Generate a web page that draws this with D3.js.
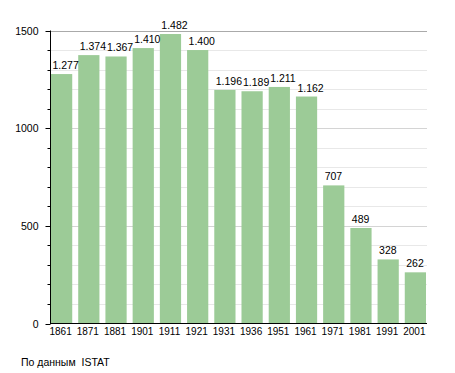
<!DOCTYPE html>
<html><head><meta charset="utf-8">
<script src="https://cdn.jsdelivr.net/npm/d3@7"></script>
<style>body{margin:0;background:#fff}svg{display:block}</style>
</head><body>
<script>
const years = ["1861","1871","1881","1901","1911","1921","1931","1936","1951","1961","1971","1981","1991","2001"];
const population = [1277,1374,1367,1410,1482,1400,1196,1189,1211,1162,707,489,328,262];
const valueLabels = ["1.277","1.374","1.367","1.410","1.482","1.400","1.196","1.189","1.211","1.162","707","489","328","262"];
const yTicks = [0,500,1000,1500];
const source = "По данным  ISTAT";

const W = 455, H = 373;
const svg = d3.select("body").append("svg").attr("width", W).attr("height", H);
const font = "Liberation Sans, Arial, sans-serif";

const x = d3.scaleBand().domain(years).range([51, 426]).paddingInner(0.22).paddingOuter(0);
const y = d3.scaleLinear().domain([0, 1500]).range([323.5, 30.5]);

// grid lines
const minor = d3.range(100, 1501, 100);
svg.append("g").selectAll("line").data(minor).join("line")
  .attr("x1", 50).attr("x2", 427)
  .attr("y1", d => Math.round(y(d)) + 0.5).attr("y2", d => Math.round(y(d)) + 0.5)
  .attr("stroke", d => d === 1500 ? "#aaaaaa" : (d % 500 === 0 ? "#d4d4d4" : "#e8e8e8"))
  .attr("stroke-width", 1);

// bars
svg.append("g").selectAll("rect").data(years).join("rect")
  .attr("x", d => x(d)).attr("width", x.bandwidth())
  .attr("y", (d, i) => y(population[i])).attr("height", (d, i) => y(0) - y(population[i]))
  .attr("fill", "#9ccb97");

// value labels
svg.append("g").selectAll("text").data(years).join("text")
  .attr("x", d => x(d) + 1.5)
  .attr("y", (d, i) => y(population[i]) - 5)
  .attr("font-family", font).attr("font-size", 10.5).attr("fill", "#000")
  .text((d, i) => valueLabels[i]);

// y axis
const yAxis = svg.append("g").attr("transform", "translate(50.5,0)");
yAxis.append("line").attr("y1", y(1500)).attr("y2", y(0)).attr("stroke", "#000");
yAxis.selectAll(".mt").data(minor.concat([0])).join("line")
  .attr("x1", d => d % 500 === 0 ? -5 : -3).attr("x2", 0)
  .attr("y1", d => Math.round(y(d)) + 0.5).attr("y2", d => Math.round(y(d)) + 0.5)
  .attr("stroke", "#000");
yAxis.selectAll("text").data(yTicks).join("text")
  .attr("x", -12).attr("y", d => y(d) + 4)
  .attr("text-anchor", "end")
  .attr("font-family", font).attr("font-size", 10.5).attr("fill", "#000")
  .text(d => d);

// x axis
svg.append("line").attr("x1", 50).attr("x2", 427).attr("y1", 323.5).attr("y2", 323.5).attr("stroke", "#000");
svg.append("g").selectAll("text").data(years).join("text")
  .attr("x", d => x(d) + x.bandwidth() / 2 - 1)
  .attr("y", 335)
  .attr("text-anchor", "middle")
  .attr("font-family", font).attr("font-size", 10).attr("fill", "#000")
  .text(d => d);

svg.append("text").attr("x", 21).attr("y", 366)
  .attr("font-family", font).attr("font-size", 10.5).attr("fill", "#000")
  .style("white-space", "pre")
  .text(source);
</script>
</body></html>
